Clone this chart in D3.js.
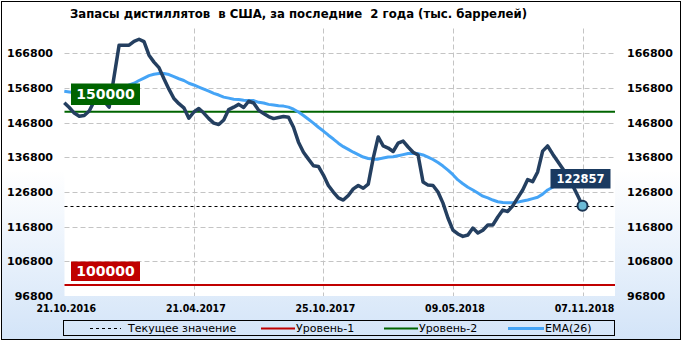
<!DOCTYPE html>
<html>
<head>
<meta charset="utf-8">
<script src="https://cdn.jsdelivr.net/npm/d3@7"></script>
<style>
  body { margin: 0; background: #fff; }
  text { font-family: "DejaVu Sans", Verdana, sans-serif; }
</style>
</head>
<body>
<script>
const tickIndex = [0, 26, 52, 78, 104];
const tickDates = ["21.10.2016", "21.04.2017", "25.10.2017", "09.05.2018", "07.11.2018"];
const yTicks = [96800, 106800, 116800, 126800, 136800, 146800, 156800, 166800];

const stocks = [
  152600, 151200, 149600, 148700, 148900, 150200, 153000, 153300, 153000, 151300,
  160200, 169200, 169200, 169200, 170300, 170900, 170200, 166300, 164300, 162700,
  159500, 156500, 153800, 152300, 151100, 148100, 149900, 150900, 149600, 148000,
  146700, 146300, 147600, 150600, 151300, 152100, 151200, 153000, 152500, 150400,
  149500, 148600, 148000, 148300, 148600, 148400, 145500, 141200, 138300, 136300,
  134400, 134200, 131700, 128700, 126800, 125100, 124500, 125800, 127700, 128700,
  127900, 129100, 136600, 142700, 140100, 139500, 138500, 140900, 141500, 139800,
  138300, 137500, 129700, 128800, 128700, 126800, 123600, 119300, 115800, 114700,
  114000, 114400, 116400, 115000, 115800, 117300, 117300, 119600, 121600, 121200,
  122800, 125100, 127400, 130400, 129800, 132600, 138600, 140100, 137800, 135700,
  133600, 131300, 128800, 125900, 122857
];

const ema26 = [
  155900, 155700, 155500, 155300, 155100, 155000, 155000, 155000, 155000, 154900,
  155200, 156100, 156800, 157700, 158200, 159000, 159700, 160400, 160800, 161000,
  161000, 160700, 160100, 159500, 159000, 158200, 157700, 157100, 156500, 155900,
  155300, 154800, 154200, 153900, 153600, 153500, 153300, 153200, 153200, 152700,
  152500, 152100, 151900, 151700, 151600, 151300, 150700, 149900, 148900, 147800,
  146700, 145500, 144400, 143200, 142100, 140900, 139900, 139100, 138300, 137600,
  136900, 136500, 136300, 136300, 136600, 136900, 137000, 137300, 137600, 137900,
  138000, 137900, 137500, 136900, 136200, 135300, 134300, 133100, 131800, 130300,
  129200, 128200, 127400, 126500, 125600, 125100, 124500, 124000, 123800, 123700,
  123700, 123900, 124200, 124500, 124900, 125300, 126200, 127400, 128200, 128800,
  129200, 129700, 130000, 130100, 130100
];

const level1 = 100000;
const level2 = 150000;
const current = stocks[stocks.length - 1];

const W = 682, H = 342;
const plot = { left: 64.5, right: 615, top: 28.5, bottom: 296 };

const svg = d3.select("body").append("svg").attr("width", W).attr("height", H);

const grad = svg.append("defs").append("linearGradient")
  .attr("id", "bg").attr("x1", 0).attr("y1", 0).attr("x2", 0).attr("y2", 1);
grad.append("stop").attr("offset", "0%").attr("stop-color", "#ffffff");
grad.append("stop").attr("offset", "50%").attr("stop-color", "#ffffff");
grad.append("stop").attr("offset", "100%").attr("stop-color", "#d3e4f8");

svg.append("rect")
  .attr("x", 1.5).attr("y", 1.5).attr("width", 679).attr("height", 338)
  .attr("fill", "url(#bg)").attr("stroke", "#000");

svg.append("text")
  .attr("x", 70).attr("y", 18)
  .attr("textLength", 457).attr("lengthAdjust", "spacingAndGlyphs")
  .style("white-space", "pre")
  .style("font-family", "'DejaVu Sans Condensed', 'DejaVu Sans', sans-serif")
  .style("font-weight", "bold").style("font-size", "13px")
  .text("Запасы дистиллятов  в США, за последние  2 года (тыс. баррелей)");

svg.append("rect")
  .attr("x", plot.left).attr("y", plot.top)
  .attr("width", plot.right - plot.left).attr("height", plot.bottom - plot.top)
  .attr("fill", "#fff");

const x = d3.scaleLinear().domain([0, 104]).range([64.3, 582.5]);
const y = d3.scaleLinear().domain([96800, 174000]).range([plot.bottom, plot.top]);

// grid
svg.append("g")
  .selectAll("line")
  .data(yTicks.slice(1))
  .enter()
  .append("line")
  .attr("x1", plot.left).attr("x2", plot.right)
  .attr("y1", (d) => Math.round(y(d)) + 0.5).attr("y2", (d) => Math.round(y(d)) + 0.5)
  .attr("stroke", "#c4c4c4").attr("stroke-dasharray", "5,3");

svg.append("g")
  .selectAll("line")
  .data(tickIndex.slice(1))
  .enter()
  .append("line")
  .attr("x1", (d) => Math.round(x(d)) + 0.5).attr("x2", (d) => Math.round(x(d)) + 0.5)
  .attr("y1", plot.top).attr("y2", plot.bottom)
  .attr("stroke", "#c4c4c4").attr("stroke-dasharray", "5,3");

// axes labels
const yLeft = svg.append("g")
  .attr("transform", "translate(53,0)")
  .call(d3.axisLeft(y).tickValues(yTicks).tickSize(0).tickPadding(0).tickFormat(d3.format("d")));
const yRight = svg.append("g")
  .attr("transform", "translate(627,0)")
  .call(d3.axisRight(y).tickValues(yTicks).tickSize(0).tickPadding(0).tickFormat(d3.format("d")));
[yLeft, yRight].forEach(function (g) {
  g.select(".domain").remove();
  g.selectAll("text")
    .attr("fill", "#000")
    .style("font-family", "'DejaVu Sans', sans-serif")
    .style("font-weight", "bold").style("font-size", "11px");
});

const xAxis = svg.append("g")
  .attr("transform", "translate(1.5," + plot.bottom + ")")
  .call(d3.axisBottom(x).tickValues(tickIndex).tickSize(0).tickPadding(9)
    .tickFormat((d, i) => tickDates[i]));
xAxis.select(".domain").remove();
xAxis.selectAll("text")
  .attr("fill", "#000")
  .style("font-family", "'DejaVu Sans Condensed', 'DejaVu Sans', sans-serif")
  .style("font-weight", "bold").style("font-size", "10.5px");

// level lines
svg.append("line")
  .attr("x1", plot.left).attr("x2", plot.right)
  .attr("y1", y(level2)).attr("y2", y(level2))
  .attr("stroke", "#006400").attr("stroke-width", 2);
svg.append("line")
  .attr("x1", plot.left).attr("x2", plot.right)
  .attr("y1", y(level1)).attr("y2", y(level1))
  .attr("stroke", "#c00000").attr("stroke-width", 2);
svg.append("line")
  .attr("x1", plot.left).attr("x2", plot.right)
  .attr("y1", Math.round(y(current)) + 0.5).attr("y2", Math.round(y(current)) + 0.5)
  .attr("stroke", "#000").attr("stroke-dasharray", "3,3");

const line = d3.line()
  .x((d, i) => x(i))
  .y((d) => y(d))
  .curve(d3.curveLinear);

svg.append("path")
  .datum(ema26)
  .attr("d", line)
  .attr("fill", "none")
  .attr("stroke", "#45a4f6")
  .attr("stroke-width", 3)
  .attr("stroke-linejoin", "round");

svg.append("path")
  .datum(stocks)
  .attr("d", line)
  .attr("fill", "none")
  .attr("stroke", "#243f60")
  .attr("stroke-width", 3.5)
  .attr("stroke-linejoin", "round");

svg.append("circle")
  .attr("cx", x(stocks.length - 1))
  .attr("cy", y(current))
  .attr("r", 5)
  .attr("fill", "#6bbbd8")
  .attr("stroke", "#1b3553")
  .attr("stroke-width", 2);

// level badges
function badge(x0, y0, w, h, fill, label, size) {
  svg.append("rect")
    .attr("x", x0).attr("y", y0).attr("width", w).attr("height", h)
    .attr("fill", fill);
  svg.append("text")
    .attr("x", x0 + w / 2).attr("y", y0 + h / 2)
    .attr("dy", "0.36em")
    .attr("text-anchor", "middle")
    .attr("fill", "#fff")
    .style("font-weight", "bold").style("font-size", size)
    .text(label);
}
badge(71, 83.5, 69, 21.5, "#006400", d3.format("d")(level2), "14px");
badge(71, 261.5, 69, 19.5, "#c00000", d3.format("d")(level1), "14px");
badge(550.5, 169, 60, 19.5, "#1a3a60", d3.format("d")(current), "11.5px");

// legend
svg.append("rect")
  .attr("x", 63.5).attr("y", 320.5).attr("width", 551).attr("height", 15)
  .attr("fill", "none").attr("stroke", "#000");

const legendItems = [
  { x: 90, w: 31, label: "Текущее значение", color: "#000", width: 1, dash: "3,3" },
  { x: 261, w: 34, label: "Уровень-1", color: "#c00000", width: 2, dash: null },
  { x: 384, w: 34, label: "Уровень-2", color: "#006400", width: 2, dash: null },
  { x: 508, w: 36, label: "EMA(26)", color: "#45a4f6", width: 3, dash: null }
];

const legend = svg.append("g").selectAll("g").data(legendItems).enter().append("g");
legend.append("line")
  .attr("x1", (d) => d.x).attr("x2", (d) => d.x + d.w)
  .attr("y1", 328.5).attr("y2", 328.5)
  .attr("stroke", (d) => d.color)
  .attr("stroke-width", (d) => d.width)
  .attr("stroke-dasharray", (d) => d.dash);
legend.append("text")
  .attr("x", (d) => d.x + d.w + (d.dash ? 7 : 1))
  .attr("y", 332)
  .style("font-size", "11px")
  .text((d) => d.label);
</script>
</body>
</html>
